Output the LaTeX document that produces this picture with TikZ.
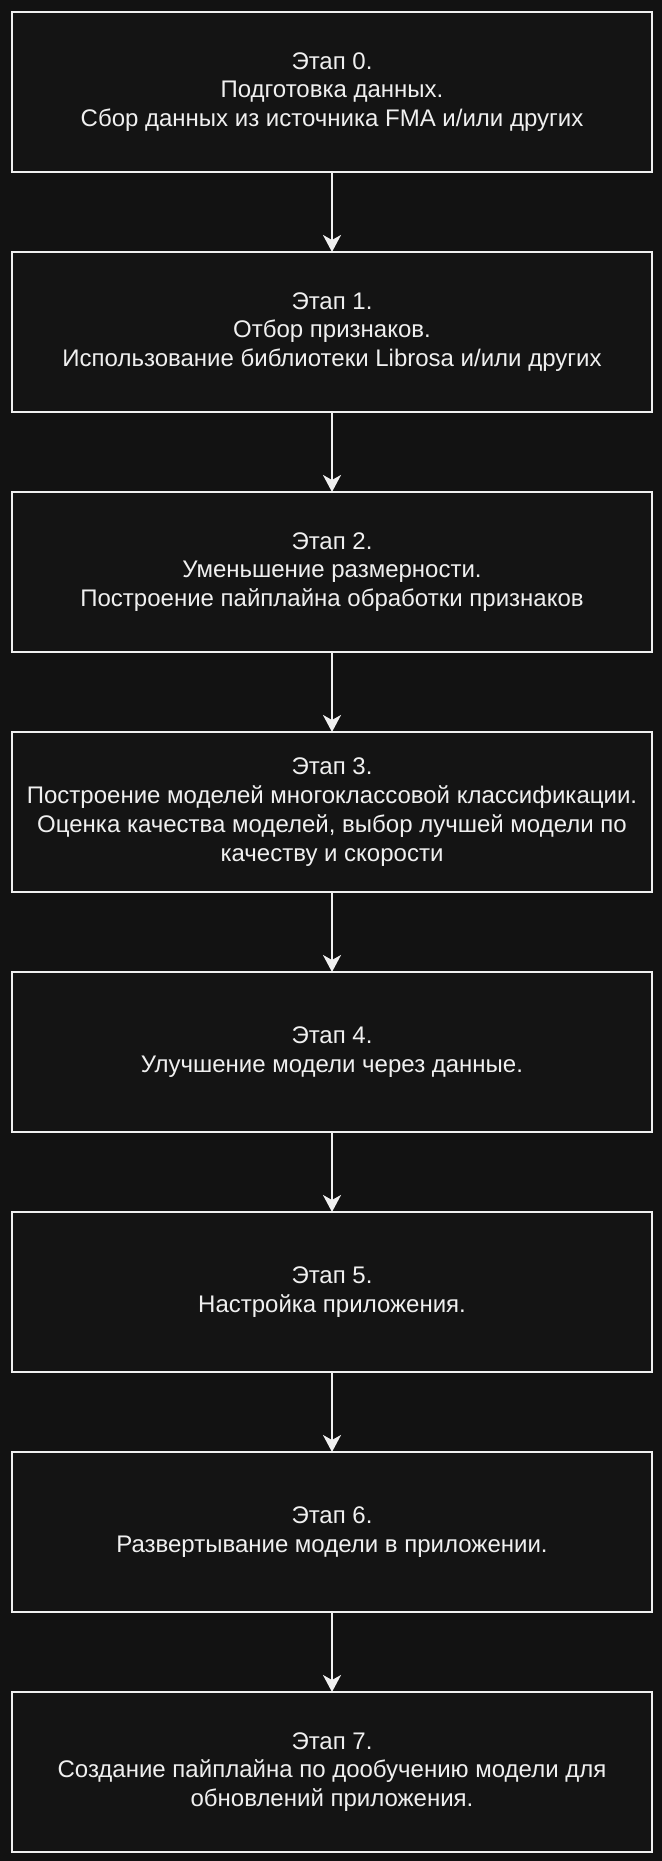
\documentclass[tikz,border=0pt]{standalone}
\usepackage{fontspec}
\setmainfont{Liberation Sans}
\usetikzlibrary{arrows.meta,positioning}
\definecolor{fond}{RGB}{18,18,18}
\definecolor{boite}{RGB}{20,20,20}
\definecolor{trait}{RGB}{240,240,240}
\tikzset{
  etape/.style={draw=trait, fill=boite, line width=1pt, outer sep=0pt,
    minimum width=320pt, minimum height=80pt, align=center, text=trait,
    font=\fontsize{12}{14.4}\selectfont},
  fleche/.style={draw=trait, line width=1pt,
    -{Stealth[length=8.5pt,width=9pt,inset=2.5pt,fill=trait]}}
}
\begin{document}
\begin{tikzpicture}[x=0.5pt,y=-0.5pt]
\fill [fond] (0,0) rectangle (662,1861);
\useasboundingbox (0,0) rectangle (662,1861);
\node [etape] (e0) at (332,92) {Этап 0.\\Подготовка данных.\\Сбор данных из источника FMA и/или других};
\node [etape, below=40pt of e0] (e1) {Этап 1.\\Отбор признаков.\\Использование библиотеки Librosa и/или других};
\node [etape, below=40pt of e1] (e2) {Этап 2.\\Уменьшение размерности.\\Построение пайплайна обработки признаков};
\node [etape, below=40pt of e2] (e3) {Этап 3.\\Построение моделей многоклассовой классификации.\\Оценка качества моделей, выбор лучшей модели по\\качеству и скорости};
\node [etape, below=40pt of e3] (e4) {Этап 4.\\Улучшение модели через данные.};
\node [etape, below=40pt of e4] (e5) {Этап 5.\\Настройка приложения.};
\node [etape, below=40pt of e5] (e6) {Этап 6.\\Развертывание модели в приложении.};
\node [etape, below=40pt of e6] (e7) {Этап 7.\\Создание пайплайна по дообучению модели для\\обновлений приложения.};
\foreach \a/\b in {e0/e1,e1/e2,e2/e3,e3/e4,e4/e5,e5/e6,e6/e7} {\draw [fleche] (\a) -- (\b);}
\end{tikzpicture}
\end{document}
